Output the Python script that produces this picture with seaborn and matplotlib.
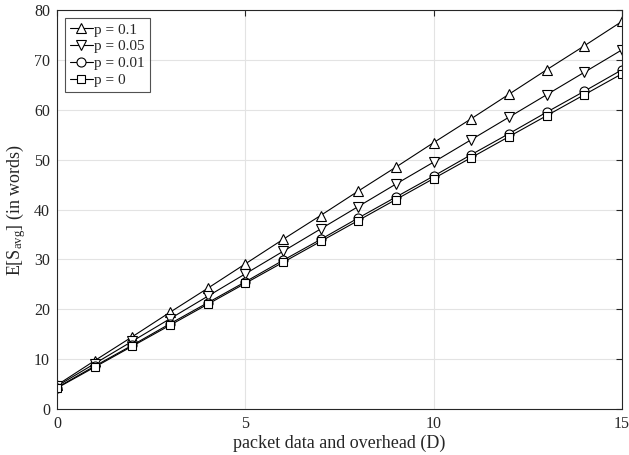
import matplotlib
matplotlib.use("Agg")
import matplotlib.pyplot as plt
import seaborn as sns
import pandas as pd
from matplotlib.lines import Line2D
from matplotlib import font_manager

D = list(range(16))
p_labels = ["p = 0.1", "p = 0.05", "p = 0.01", "p = 0"]
s_p01 = [4.8, 9.7, 14.5, 19.4, 24.2, 29.1, 34.0, 38.8, 43.7, 48.5, 53.4, 58.2, 63.1, 68.0, 72.8, 77.7]
s_p005 = [4.6, 9.1, 13.6, 18.1, 22.6, 27.1, 31.6, 36.1, 40.6, 45.1, 49.5, 54.0, 58.5, 63.0, 67.5, 72.0]
s_p001 = [4.3, 8.6, 12.8, 17.1, 21.3, 25.5, 29.8, 34.0, 38.3, 42.5, 46.7, 51.0, 55.2, 59.5, 63.7, 68.0]
s_p0 = [4.2, 8.4, 12.6, 16.8, 21.0, 25.2, 29.4, 33.6, 37.8, 42.0, 46.2, 50.4, 54.6, 58.8, 63.0, 67.2]
series = [s_p01, s_p005, s_p001, s_p0]
markers = ["^", "v", "o", "s"]
msizes = [7.5, 7.5, 6.5, 5.5]

names = {f.name for f in font_manager.fontManager.ttflist}
serif = "Liberation Serif"
for cand in ["Liberation Serif", "Times New Roman", "Nimbus Roman", "DejaVu Serif"]:
    if cand in names:
        serif = cand
        break

sns.set_style("white")
plt.rcParams["font.family"] = [serif, "DejaVu Serif"]
plt.rcParams["mathtext.fontset"] = "custom"
plt.rcParams["mathtext.rm"] = serif
plt.rcParams["mathtext.it"] = serif + ":italic"

fig = plt.figure(figsize=(6.29, 4.55), dpi=100)
ax = fig.add_axes([0.0906, 0.101, 0.898, 0.877])

handles = []
for lab, vals, m, ms in zip(p_labels, series, markers, msizes):
    df = pd.DataFrame({"D": D, "S": vals})
    sns.lineplot(data=df, x="D", y="S", ax=ax, color="black", linewidth=0.8,
                 marker=m, markersize=ms, markerfacecolor="white",
                 markeredgecolor="black", markeredgewidth=0.8)
    handles.append(Line2D([], [], color="black", linewidth=0.8, marker=m,
                          markersize=ms, markerfacecolor="white",
                          markeredgecolor="black", markeredgewidth=0.8, label=lab))

ax.set_xlim(0, 15)
ax.set_ylim(0, 80)
ax.set_xticks([0, 5, 10, 15])
ax.set_yticks(range(0, 81, 10))
ax.grid(True, color="#e3e3e3", linewidth=0.8)
ax.set_axisbelow(True)
for s in ax.spines.values():
    s.set_visible(True)
    s.set_color("#262626")
    s.set_linewidth(0.8)
ax.tick_params(direction="in", top=True, right=True, length=4, width=0.8,
               labelsize=11.5, colors="#262626", pad=5)
ax.set_xlabel("packet data and overhead (D)", fontsize=13, color="#262626", labelpad=2)
ax.set_ylabel(r"E[S$_{\rm avg}$] (in words)", fontsize=13, color="#262626", labelpad=4)

leg = ax.legend(handles=handles, loc="upper left", fontsize=11, frameon=True,
                fancybox=False, edgecolor="#262626", handlelength=1.5,
                handletextpad=0.1, borderpad=0.35, labelspacing=0.2,
                borderaxespad=0.5)
leg.get_frame().set_linewidth(0.8)

fig.savefig("out.png", dpi=100)
